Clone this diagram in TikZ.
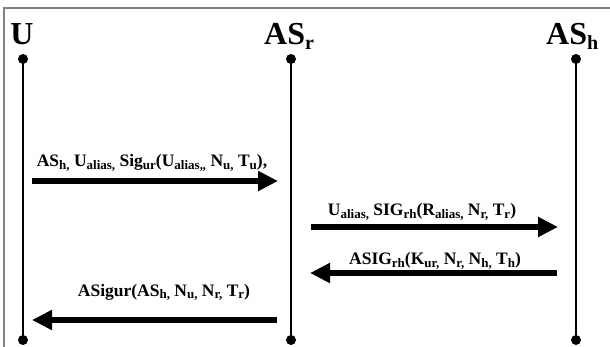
\documentclass[tikz,border=0pt]{standalone}
\usepackage{fontspec}
\setmainfont{Liberation Serif}
\usetikzlibrary{arrows.meta}
\newcommand{\sbs}[1]{\raisebox{-0.25ex}{\fontsize{13}{13}\selectfont #1}}
\newcommand{\tsbs}[1]{\raisebox{-0.3ex}{\fontsize{20}{20}\selectfont #1}}
\tikzset{
  x=1pt, y=-1pt,
  frame/.style={draw=black!50, line width=1.5pt},
  title/.style={font=\fontsize{32}{32}\selectfont\bfseries, inner sep=0pt},
  lifeline/.style={line width=2.8pt},
  dot/.style={circle, fill=black, minimum size=10pt, inner sep=0pt},
  msg/.style={line width=6pt, -{Triangle[length=20pt,width=19pt]}},
  lbl/.style={font=\fontsize{17.5}{17.5}\selectfont\bfseries, inner sep=0pt, anchor=base}
}
\begin{document}
\begin{tikzpicture}
\useasboundingbox (0,0) rectangle (610,347);
\draw[frame] (4,347) -- (4,8) -- (610,8);
% titles
\node[title, anchor=base] (tU) at (22,45) {U};
\node[title, anchor=base west] (tR) at (264,45) {AS\tsbs{r}};
\node[title, anchor=base west] (tH) at (546,45) {AS\tsbs{h}};
% lifelines
\node[dot] (u1) at (23,59) {};
\node[dot] (u2) at (23,340) {};
\node[dot] (r1) at (291,59) {};
\node[dot] (r2) at (291,340) {};
\node[dot] (h1) at (576,59) {};
\node[dot] (h2) at (576,340) {};
\draw[lifeline] (u1.center) -- (u2.center);
\draw[lifeline] (r1.center) -- (r2.center);
\draw[lifeline] (h1.center) -- (h2.center);
% arrow endpoints
\coordinate (a1s) at (32,181);  \coordinate (a1e) at (278,181);
\coordinate (a2s) at (311,227); \coordinate (a2e) at (558,227);
\coordinate (a3s) at (557,273); \coordinate (a3e) at (310,273);
\coordinate (a4s) at (277,320); \coordinate (a4e) at (32,320);
\draw[msg] (a1s) -- (a1e);
\draw[msg] (a2s) -- (a2e);
\draw[msg] (a3s) -- (a3e);
\draw[msg] (a4s) -- (a4e);
% labels
\node[lbl] (l1) at (152,167) {AS\sbs{h,} U\sbs{alias,} Sig\sbs{ur}(U\sbs{alias,,} N\sbs{u,} T\sbs{u}),};
\node[lbl] (l2) at (422,216) {U\sbs{alias,} SIG\sbs{rh}(R\sbs{alias,} N\sbs{r,} T\sbs{r})};
\node[lbl] (l3) at (435,265) {ASIG\sbs{rh}(K\sbs{ur,} N\sbs{r,} N\sbs{h,} T\sbs{h})};
\node[lbl] (l4) at (164,296) {ASigur(AS\sbs{h,} N\sbs{u,} N\sbs{r,} T\sbs{r})};
\end{tikzpicture}
\end{document}
